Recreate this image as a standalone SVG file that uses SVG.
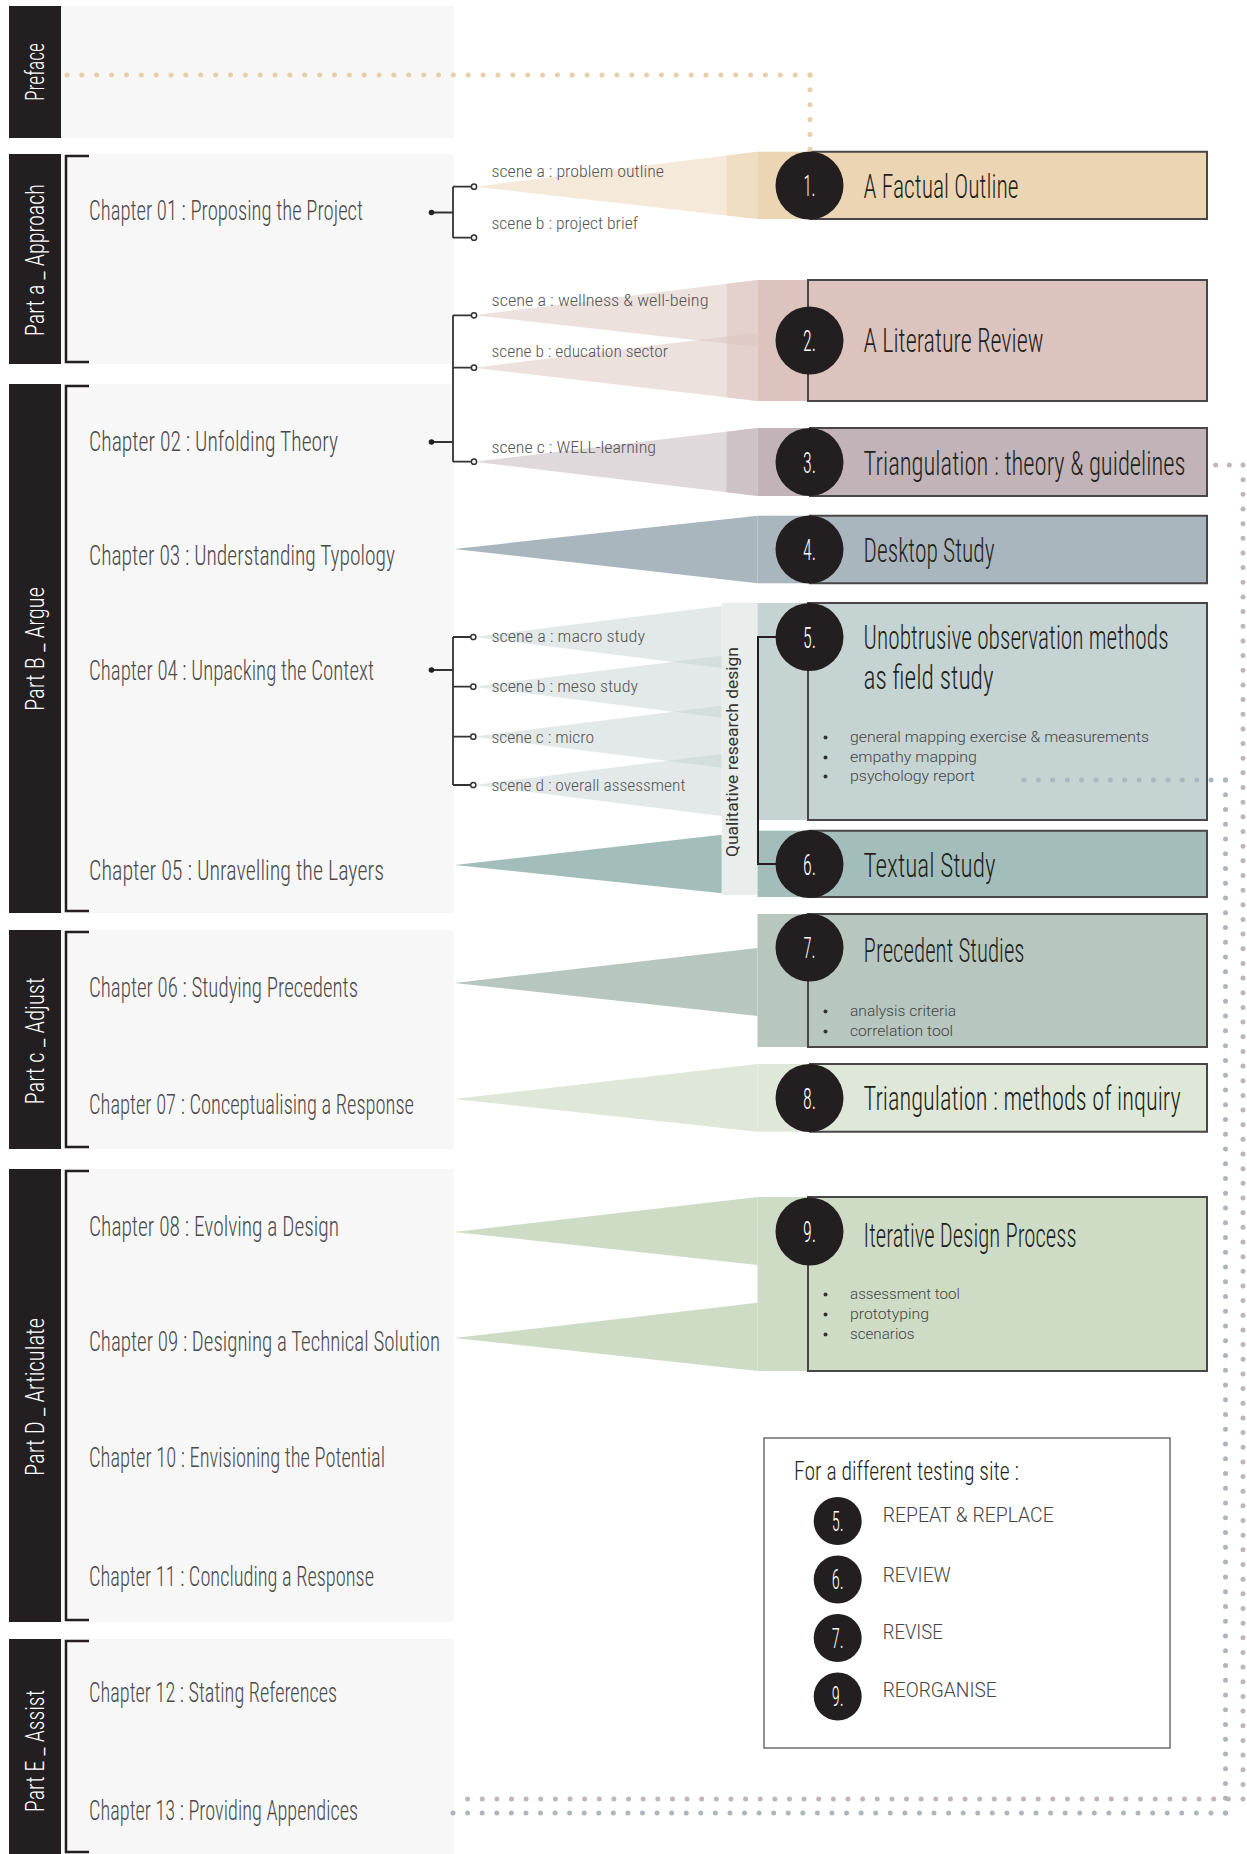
<svg xmlns="http://www.w3.org/2000/svg" width="1247" height="1854" viewBox="0 0 1247 1854">
<defs>
<style>
.hd{font-family:'Roboto Condensed',Roboto,'Liberation Sans',sans-serif;font-weight:300;fill:#231f20;font-size:34px}
.ch{font-family:'Roboto Condensed',Roboto,'Liberation Sans',sans-serif;font-weight:300;fill:#4a4a4a;font-size:28px}
.sc{font-family:'Roboto Condensed',Roboto,'Liberation Sans',sans-serif;font-weight:300;fill:#555;font-size:17px}
.pt{font-family:'Roboto Condensed',Roboto,'Liberation Sans',sans-serif;font-weight:300;fill:#fff;font-size:25px;text-anchor:middle}
.num{font-family:'Roboto Condensed',Roboto,'Liberation Sans',sans-serif;font-weight:300;fill:#fff;font-size:30px;text-anchor:middle}
.bl{font-family:Roboto,'Liberation Sans',sans-serif;font-weight:300;font-size:14px;fill:#444}
.lg{font-family:Roboto,'Liberation Sans',sans-serif;font-weight:300;font-size:20px;fill:#444}
.qr{font-family:Roboto,'Liberation Sans',sans-serif;font-weight:400;font-size:17px;fill:#333;text-anchor:middle}
.panel{fill:#f7f7f7}
.bar{fill:#231f20}
.brk{fill:none;stroke:#231f20;stroke-width:2.5}
.bd{fill:none;stroke:#4a4546;stroke-width:2}
.circ{fill:#231f20}
.bu{fill:#333}
.ln{fill:none;stroke:#333;stroke-width:1.8}
.od{fill:#fff;stroke:#333;stroke-width:1.5}
.fd{fill:#231f20}
.dot{fill:none;stroke-width:5;stroke-linecap:round}
</style>
</defs>
<rect width="1247" height="1854" fill="#fff"/>

<g id="part-preface">
<rect class="panel" x="61" y="6" width="393" height="132"/>
<rect class="bar" x="9" y="6" width="52" height="132"/>
<text class="pt" transform="translate(44,72) rotate(-90)" textLength="58" lengthAdjust="spacingAndGlyphs">Preface</text>
</g>
<g id="part-a">
<rect class="panel" x="61" y="154" width="393" height="210"/>
<rect class="bar" x="9" y="154" width="52" height="210"/>
<text class="pt" transform="translate(44,260) rotate(-90)" textLength="152" lengthAdjust="spacingAndGlyphs">Part a _ Approach</text>
<path class="brk" d="M89,156 H66 V362 H89"/>
<text class="ch" x="89" y="220" textLength="274" lengthAdjust="spacingAndGlyphs">Chapter 01 : Proposing the Project</text>
</g>
<g id="part-b">
<rect class="panel" x="61" y="384" width="393" height="529"/>
<rect class="bar" x="9" y="384" width="52" height="529"/>
<text class="pt" transform="translate(44,649) rotate(-90)" textLength="124" lengthAdjust="spacingAndGlyphs">Part B _ Argue</text>
<path class="brk" d="M89,386 H66 V911 H89"/>
<text class="ch" x="89" y="451" textLength="249" lengthAdjust="spacingAndGlyphs">Chapter 02 : Unfolding Theory</text>
<text class="ch" x="89" y="565" textLength="306" lengthAdjust="spacingAndGlyphs">Chapter 03 : Understanding Typology</text>
<text class="ch" x="89" y="680" textLength="285" lengthAdjust="spacingAndGlyphs">Chapter 04 : Unpacking the Context</text>
<text class="ch" x="89" y="880" textLength="295" lengthAdjust="spacingAndGlyphs">Chapter 05 : Unravelling the Layers</text>
</g>
<g id="part-c">
<rect class="panel" x="61" y="930" width="393" height="219"/>
<rect class="bar" x="9" y="930" width="52" height="219"/>
<text class="pt" transform="translate(44,1041) rotate(-90)" textLength="127" lengthAdjust="spacingAndGlyphs">Part c _ Adjust</text>
<path class="brk" d="M89,932 H66 V1147 H89"/>
<text class="ch" x="89" y="997" textLength="269" lengthAdjust="spacingAndGlyphs">Chapter 06 : Studying Precedents</text>
<text class="ch" x="89" y="1114" textLength="325" lengthAdjust="spacingAndGlyphs">Chapter 07 : Conceptualising a Response</text>
</g>
<g id="part-d">
<rect class="panel" x="61" y="1169" width="393" height="453"/>
<rect class="bar" x="9" y="1169" width="52" height="453"/>
<text class="pt" transform="translate(44,1397) rotate(-90)" textLength="158" lengthAdjust="spacingAndGlyphs">Part D _ Articulate</text>
<path class="brk" d="M89,1171 H66 V1620 H89"/>
<text class="ch" x="89" y="1236" textLength="250" lengthAdjust="spacingAndGlyphs">Chapter 08 : Evolving a Design</text>
<text class="ch" x="89" y="1351" textLength="351" lengthAdjust="spacingAndGlyphs">Chapter 09 : Designing a Technical Solution</text>
<text class="ch" x="89" y="1467" textLength="296" lengthAdjust="spacingAndGlyphs">Chapter 10 : Envisioning the Potential</text>
<text class="ch" x="89" y="1586" textLength="285" lengthAdjust="spacingAndGlyphs">Chapter 11 : Concluding a Response</text>
</g>
<g id="part-e">
<rect class="panel" x="61" y="1639" width="393" height="215"/>
<rect class="bar" x="9" y="1639" width="52" height="215"/>
<text class="pt" transform="translate(44,1751) rotate(-90)" textLength="122" lengthAdjust="spacingAndGlyphs">Part E _ Assist</text>
<path class="brk" d="M89,1641 H66 V1852 H89"/>
<text class="ch" x="89" y="1702" textLength="248" lengthAdjust="spacingAndGlyphs">Chapter 12 : Stating References</text>
<text class="ch" x="89" y="1820" textLength="269" lengthAdjust="spacingAndGlyphs">Chapter 13 : Providing Appendices</text>
</g>

<g id="qualitative-strip">
<rect x="722" y="603" width="35.5" height="292" fill="#e9eeed"/>
<text class="qr" transform="translate(738,752) rotate(-90)" textLength="210" lengthAdjust="spacingAndGlyphs">Qualitative research design</text>
</g>

<g id="box-1">
<rect x="757.5" y="151.7" width="449.5" height="67.3" fill="#ecd5b3"/>
<path class="bd" d="M809,151.7 H1207 V219 H809"/>
<circle class="circ" cx="809.5" cy="185.5" r="34"/>
<text class="num" x="809.5" y="196" textLength="12" lengthAdjust="spacingAndGlyphs">1.</text>
<text class="hd" transform="translate(863.6,198) scale(0.7,1)" textLength="221.4" lengthAdjust="spacingAndGlyphs">A Factual Outline</text>
</g>
<g id="box-2">
<rect x="757.5" y="280" width="449.5" height="121" fill="#dcc3bd"/>
<rect class="bd" x="808" y="280" width="399" height="121"/>
<circle class="circ" cx="809.5" cy="340.5" r="34"/>
<text class="num" x="809.5" y="351" textLength="13" lengthAdjust="spacingAndGlyphs">2.</text>
<text class="hd" transform="translate(863.6,352) scale(0.7,1)" textLength="257.1" lengthAdjust="spacingAndGlyphs">A Literature Review</text>
</g>
<g id="box-3">
<rect x="757.5" y="428" width="449.5" height="68" fill="#c1b3b7"/>
<path class="bd" d="M809,428 H1207 V496 H809"/>
<circle class="circ" cx="809.5" cy="462" r="34"/>
<text class="num" x="809.5" y="472.5" textLength="13" lengthAdjust="spacingAndGlyphs">3.</text>
<text class="hd" transform="translate(863.6,475) scale(0.7,1)" textLength="460" lengthAdjust="spacingAndGlyphs">Triangulation : theory &amp; guidelines</text>
</g>
<g id="box-4">
<rect x="757.5" y="515.7" width="449.5" height="67.6" fill="#a9b6bd"/>
<path class="bd" d="M809,515.7 H1207 V583.3 H809"/>
<circle class="circ" cx="809.5" cy="549.5" r="34"/>
<text class="num" x="809.5" y="560" textLength="13" lengthAdjust="spacingAndGlyphs">4.</text>
<text class="hd" transform="translate(863.6,562) scale(0.7,1)" textLength="187.1" lengthAdjust="spacingAndGlyphs">Desktop Study</text>
</g>
<g id="box-5">
<rect x="757.5" y="603" width="449.5" height="217" fill="#c5d3d2"/>
<rect class="bd" x="808" y="603" width="399" height="217"/>
<circle class="circ" cx="809.5" cy="637" r="34"/>
<text class="num" x="809.5" y="647.5" textLength="13" lengthAdjust="spacingAndGlyphs">5.</text>
<text class="hd" transform="translate(863.6,649) scale(0.7,1)" textLength="435.7" lengthAdjust="spacingAndGlyphs">Unobtrusive observation methods</text>
<text class="hd" transform="translate(863.6,689) scale(0.7,1)" textLength="185.7" lengthAdjust="spacingAndGlyphs">as field study</text>
<circle class="bu" cx="825.5" cy="737.5" r="2"/>
<circle class="bu" cx="825.5" cy="757.5" r="2"/>
<circle class="bu" cx="825.5" cy="776.5" r="2"/>
<text class="bl" x="850" y="742" textLength="299" lengthAdjust="spacingAndGlyphs">general mapping exercise &amp; measurements</text>
<text class="bl" x="850" y="762" textLength="127" lengthAdjust="spacingAndGlyphs">empathy mapping</text>
<text class="bl" x="850" y="781" textLength="125" lengthAdjust="spacingAndGlyphs">psychology report</text>
</g>
<g id="box-6">
<rect x="757.5" y="830.7" width="449.5" height="66.3" fill="#a3beba"/>
<path class="bd" d="M809,830.7 H1207 V897 H809"/>
<circle class="circ" cx="809.5" cy="864" r="34"/>
<text class="num" x="809.5" y="874.5" textLength="13" lengthAdjust="spacingAndGlyphs">6.</text>
<text class="hd" transform="translate(863.6,877) scale(0.7,1)" textLength="188.6" lengthAdjust="spacingAndGlyphs">Textual Study</text>
</g>
<g id="box-7">
<rect x="757.5" y="914" width="449.5" height="133" fill="#b7c6bf"/>
<rect class="bd" x="808" y="914" width="399" height="133"/>
<circle class="circ" cx="809.5" cy="947.5" r="34"/>
<text class="num" x="809.5" y="958" textLength="12" lengthAdjust="spacingAndGlyphs">7.</text>
<text class="hd" transform="translate(863.6,962) scale(0.7,1)" textLength="230" lengthAdjust="spacingAndGlyphs">Precedent Studies</text>
<circle class="bu" cx="825.5" cy="1011.5" r="2"/>
<circle class="bu" cx="825.5" cy="1031.5" r="2"/>
<text class="bl" x="850" y="1016" textLength="106" lengthAdjust="spacingAndGlyphs">analysis criteria</text>
<text class="bl" x="850" y="1036" textLength="103" lengthAdjust="spacingAndGlyphs">correlation tool</text>
</g>
<g id="box-8">
<rect x="757.5" y="1064" width="449.5" height="67.7" fill="#dfe7d8"/>
<path class="bd" d="M809,1064 H1207 V1131.7 H809"/>
<circle class="circ" cx="809.5" cy="1098" r="34"/>
<text class="num" x="809.5" y="1108.5" textLength="13" lengthAdjust="spacingAndGlyphs">8.</text>
<text class="hd" transform="translate(863.6,1110) scale(0.7,1)" textLength="452.9" lengthAdjust="spacingAndGlyphs">Triangulation : methods of inquiry</text>
</g>
<g id="box-9">
<rect x="757.5" y="1197" width="449.5" height="174" fill="#cedcc6"/>
<rect class="bd" x="808" y="1197" width="399" height="174"/>
<circle class="circ" cx="809.5" cy="1231.5" r="34"/>
<text class="num" x="809.5" y="1242" textLength="13" lengthAdjust="spacingAndGlyphs">9.</text>
<text class="hd" transform="translate(863.6,1247) scale(0.7,1)" textLength="304.3" lengthAdjust="spacingAndGlyphs">Iterative Design Process</text>
<circle class="bu" cx="825.5" cy="1294.5" r="2"/>
<circle class="bu" cx="825.5" cy="1314.5" r="2"/>
<circle class="bu" cx="825.5" cy="1334.5" r="2"/>
<text class="bl" x="850" y="1299" textLength="110" lengthAdjust="spacingAndGlyphs">assessment tool</text>
<text class="bl" x="850" y="1319" textLength="79" lengthAdjust="spacingAndGlyphs">prototyping</text>
<text class="bl" x="850" y="1339" textLength="64.5" lengthAdjust="spacingAndGlyphs">scenarios</text>
</g>

<g id="legend">
<rect x="764" y="1438" width="406" height="310" fill="#fff" stroke="#6d6d6d" stroke-width="1.5"/>
<text class="hd" transform="translate(794,1480) scale(0.7,1)" style="font-size:26px" textLength="321.4" lengthAdjust="spacingAndGlyphs">For a different testing site :</text>
<circle class="circ" cx="837.7" cy="1521" r="24"/>
<text class="num" x="837.7" y="1530.5" style="font-size:27px" textLength="12" lengthAdjust="spacingAndGlyphs">5.</text>
<text class="lg" x="882.7" y="1522" textLength="171" lengthAdjust="spacingAndGlyphs">REPEAT &amp; REPLACE</text>
<circle class="circ" cx="837.7" cy="1579.5" r="24"/>
<text class="num" x="837.7" y="1589" style="font-size:27px" textLength="12" lengthAdjust="spacingAndGlyphs">6.</text>
<text class="lg" x="882.7" y="1582" textLength="68" lengthAdjust="spacingAndGlyphs">REVIEW</text>
<circle class="circ" cx="837.7" cy="1638" r="24"/>
<text class="num" x="837.7" y="1647.5" style="font-size:27px" textLength="12" lengthAdjust="spacingAndGlyphs">7.</text>
<text class="lg" x="882.7" y="1639" textLength="60" lengthAdjust="spacingAndGlyphs">REVISE</text>
<circle class="circ" cx="837.7" cy="1696.5" r="24"/>
<text class="num" x="837.7" y="1706" style="font-size:27px" textLength="12" lengthAdjust="spacingAndGlyphs">9.</text>
<text class="lg" x="882.7" y="1697" textLength="114" lengthAdjust="spacingAndGlyphs">REORGANISE</text>
</g>

<g id="connectors">
<polygon points="474,186.7 757.5,151.7 757.5,219" fill="#ecd5b3" opacity="0.5"/>
<polygon points="726.6,155.5 757.5,151.7 757.5,219 726.6,215.5" fill="#ecd5b3" opacity="0.6"/>
<polygon points="474,315.3 757.5,280 757.5,347" fill="#dcc3bd" opacity="0.5"/>
<polygon points="474,367.7 757.5,332.7 757.5,401" fill="#dcc3bd" opacity="0.5"/>
<polygon points="726.6,283.8 757.5,280 757.5,401 726.6,397.4" fill="#dcc3bd" opacity="0.55"/>
<polygon points="474,461.7 757.5,428 757.5,496" fill="#c1b3b7" opacity="0.5"/>
<polygon points="726.6,431.7 757.5,428 757.5,496 726.6,492.3" fill="#c1b3b7" opacity="0.6"/>
<polygon points="454.4,549 757.5,515.7 757.5,583.3" fill="#a9b6bd"/>
<polygon points="473.3,637 721.7,606 721.7,668" fill="#c5d3d2" opacity="0.5"/>
<polygon points="473.3,686.7 721.7,655.7 721.7,717.7" fill="#c5d3d2" opacity="0.5"/>
<polygon points="473.3,736.7 721.7,705.7 721.7,767.7" fill="#c5d3d2" opacity="0.5"/>
<polygon points="473.3,785 721.7,754 721.7,816" fill="#c5d3d2" opacity="0.5"/>
<polygon points="455,865 721.7,834.8 721.7,893.2" fill="#a3beba"/>
<polygon points="454.4,983 757.5,948 757.5,1016" fill="#b7c6bf"/>
<polygon points="454.4,1099 757.5,1064 757.5,1131.7" fill="#dfe7d8"/>
<polygon points="454.4,1232 757.5,1197 757.5,1265" fill="#cedcc6"/>
<polygon points="454.4,1338 757.5,1302.7 757.5,1371" fill="#cedcc6"/>
<path class="ln" d="M431.5,212.5 H453 M453,186.7 V237.7 M453,186.7 H471 M453,237.7 H471"/>
<circle class="fd" cx="431.5" cy="212.5" r="2.8"/>
<circle class="od" cx="474" cy="186.7" r="2.6"/>
<circle class="od" cx="474" cy="237.7" r="2.6"/>
<text class="sc" x="491.5" y="177" textLength="172.5" lengthAdjust="spacingAndGlyphs">scene a : problem outline</text>
<text class="sc" x="491.5" y="229" textLength="146.5" lengthAdjust="spacingAndGlyphs">scene b : project brief</text>
<path class="ln" d="M431.5,442 H453 M453,315.3 V461.7 M453,315.3 H471 M453,367.7 H471 M453,461.7 H471"/>
<circle class="fd" cx="431.5" cy="442" r="2.8"/>
<circle class="od" cx="474" cy="315.3" r="2.6"/>
<circle class="od" cx="474" cy="367.7" r="2.6"/>
<circle class="od" cx="474" cy="461.7" r="2.6"/>
<text class="sc" x="491.5" y="305.7" textLength="217" lengthAdjust="spacingAndGlyphs">scene a : wellness &amp; well-being</text>
<text class="sc" x="491.5" y="357.3" textLength="176.5" lengthAdjust="spacingAndGlyphs">scene b : education sector</text>
<text class="sc" x="491.5" y="453.3" textLength="164.5" lengthAdjust="spacingAndGlyphs">scene c : WELL-learning</text>
<path class="ln" d="M431.5,670 H453 M453,637 V785 M453,637 H470.5 M453,686.7 H470.5 M453,736.7 H470.5 M453,785 H470.5"/>
<circle class="fd" cx="431.5" cy="670" r="2.8"/>
<circle class="od" cx="473.3" cy="637" r="2.6"/>
<circle class="od" cx="473.3" cy="686.7" r="2.6"/>
<circle class="od" cx="473.3" cy="736.7" r="2.6"/>
<circle class="od" cx="473.3" cy="785" r="2.6"/>
<text class="sc" x="491.5" y="642" textLength="153.5" lengthAdjust="spacingAndGlyphs">scene a : macro study</text>
<text class="sc" x="491.5" y="692" textLength="146.5" lengthAdjust="spacingAndGlyphs">scene b : meso study</text>
<text class="sc" x="491.5" y="742.5" textLength="102.5" lengthAdjust="spacingAndGlyphs">scene c : micro</text>
<text class="sc" x="491.5" y="791" textLength="194" lengthAdjust="spacingAndGlyphs">scene d : overall assessment</text>
<path d="M776,637 H758 V864 H776" fill="none" stroke="#231f20" stroke-width="2"/>
<path class="dot" stroke="#e8cfa9" stroke-dasharray="0 14.86" d="M67,75 H810"/>
<path class="dot" stroke="#e8cfa9" stroke-dasharray="0 14.86" d="M810,75 V149.3"/>
<path class="dot" stroke="#c3b4b9" stroke-dasharray="0 13.67" d="M1202,465 H1243"/>
<path class="dot" stroke="#c3b4b9" stroke-dasharray="0 14.66" d="M1243,465 V1799"/>
<path class="dot" stroke="#c3b4b9" stroke-dasharray="0 14.63" d="M1243,1799 H453"/>
<path class="dot" stroke="#abb7bd" stroke-dasharray="0 14.39" d="M1024,780 H1225.5"/>
<path class="dot" stroke="#abb7bd" stroke-dasharray="0 14.757" d="M1225.5,780 V1813"/>
<path class="dot" stroke="#abb7bd" stroke-dasharray="0 14.575" d="M1225.5,1813 H453"/>
</g>
</svg>
